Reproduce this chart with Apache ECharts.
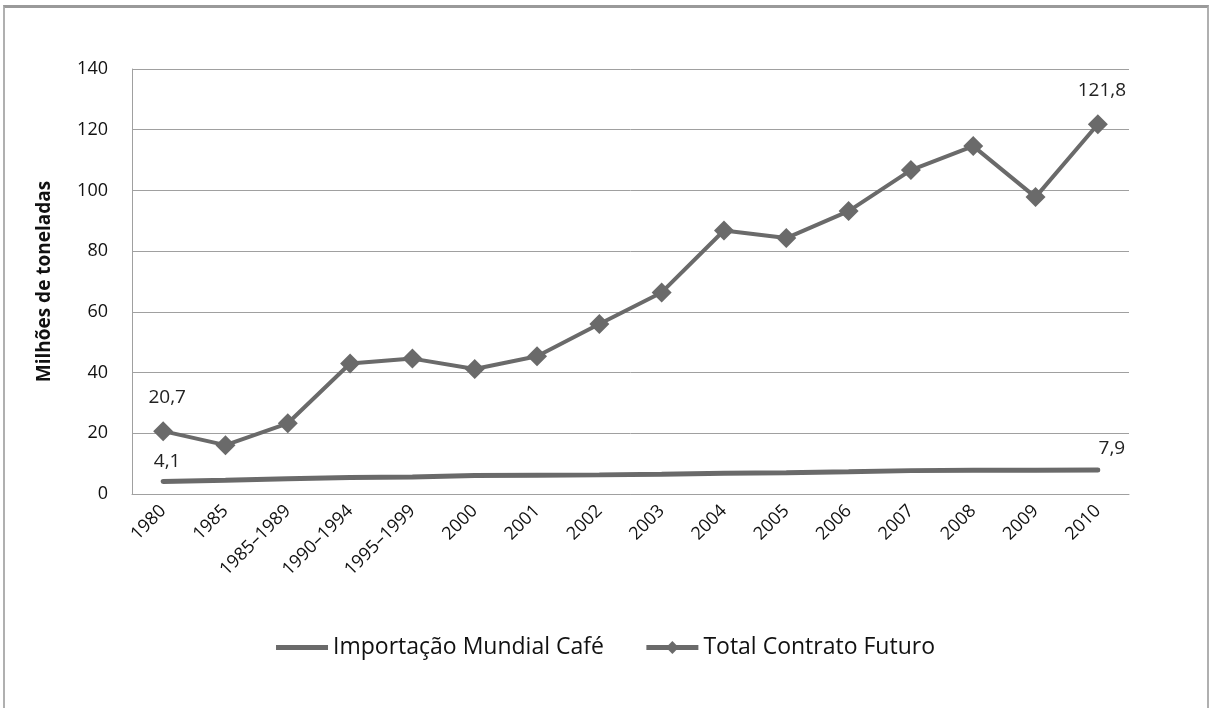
<!DOCTYPE html>
<html>
<head>
<meta charset="utf-8">
<script src="https://cdn.jsdelivr.net/npm/echarts@6/dist/echarts.min.js"></script>
<style>
  body { margin: 0; background: #fff; }
  #main { width: 1211px; height: 708px; }
  .frame {
    position: absolute; left: 3px; top: 5px; width: 1202px; height: 710px;
    border-top: 3px solid #9a9a9a; border-left: 2px solid #b0b0b0; border-right: 2px solid #b0b0b0;
    pointer-events: none;
  }
</style>
</head>
<body>
<div id="main"></div>
<div class="frame"></div>
<script>
const categories = ["1980", "1985", "1985–1989", "1990–1994", "1995–1999", "2000", "2001", "2002",
  "2003", "2004", "2005", "2006", "2007", "2008", "2009", "2010"];
const importacao = [4.1, 4.5, 5.0, 5.4, 5.6, 6.1, 6.2, 6.3, 6.5, 6.8, 7.0, 7.3, 7.7, 7.8, 7.8, 7.9];
const contrato = [20.7, 16.1, 23.3, 43.0, 44.6, 41.2, 45.4, 56.0, 66.4, 86.8, 84.3, 93.2, 106.7, 114.6, 97.8, 121.8];

const font = "Open Sans";
const grey = "#6a6a6a";

// only the first and last points carry a label
function labelled(arr, firstOffset, lastOffset) {
  return arr.map((v, i) => {
    if (i === 0 || i === arr.length - 1) {
      return {
        value: v,
        label: { show: true, offset: i === 0 ? firstOffset : lastOffset }
      };
    }
    return v;
  });
}

const chart = echarts.init(document.getElementById("main"));
chart.setOption({
  animation: false,
  textStyle: { fontFamily: font },
  grid: { left: 132, right: 82, top: 69, bottom: 214 },
  legend: {
    bottom: 44,
    left: "center",
    itemWidth: 52,
    itemHeight: 16,
    itemGap: 40,
    textStyle: { fontSize: 23, color: "#111", fontFamily: font },
    data: [
      { name: "Importação Mundial Café", icon: "path://M0,6 L52,6 L52,11 L0,11 Z" },
      { name: "Total Contrato Futuro", lineStyle: { width: 5, color: grey } }
    ]
  },
  xAxis: {
    type: "category",
    data: categories,
    boundaryGap: true,
    axisLine: { lineStyle: { color: "#a0a0a0", width: 1 } },
    axisTick: { show: false },
    axisLabel: { rotate: 45, fontSize: 18, color: "#111", margin: 14, interval: 0 }
  },
  yAxis: {
    type: "value",
    min: 0,
    max: 140,
    interval: 20,
    name: "Milhões de toneladas",
    nameLocation: "middle",
    nameGap: 78,
    nameTextStyle: { fontSize: 19, fontWeight: "bold", color: "#111" },
    axisLine: { show: true, lineStyle: { color: "#a0a0a0", width: 1 } },
    axisTick: { show: false },
    axisLabel: { fontSize: 18, color: "#111", margin: 24 },
    splitLine: { lineStyle: { color: "#a0a0a0", width: 1 } }
  },
  series: [
    {
      name: "Importação Mundial Café",
      type: "line",
      data: labelled(importacao, [4, 0], [14, -2]),
      symbol: "circle",
      symbolSize: 0,
      showSymbol: true,
      lineStyle: { color: grey, width: 5, cap: "round" },
      itemStyle: { color: grey },
      label: {
        position: "top",
        distance: 10,
        fontSize: 19,
        color: "#222",
        formatter: p => String(p.value).replace(".", ",")
      }
    },
    {
      name: "Total Contrato Futuro",
      type: "line",
      data: labelled(contrato, [4, 0], [4, 0]),
      symbol: "diamond",
      symbolSize: 20,
      lineStyle: { color: grey, width: 4 },
      itemStyle: { color: grey },
      label: {
        position: "top",
        distance: 14,
        fontSize: 19,
        color: "#222",
        formatter: p => String(p.value).replace(".", ",")
      }
    }
  ]
});
</script>
</body>
</html>
